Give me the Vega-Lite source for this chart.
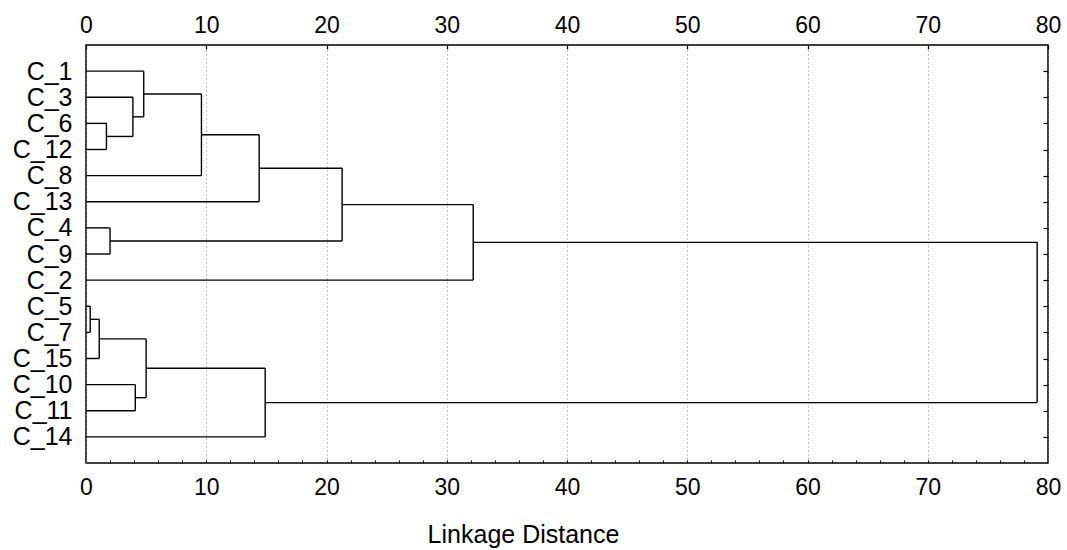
{
  "$schema": "https://vega.github.io/schema/vega-lite/v6.json",
  "width": 962,
  "height": 418,
  "autosize": {"type": "none"},
  "padding": {"left": 86, "top": 45, "right": 19, "bottom": 87},
  "background": "white",
  "config": {
    "view": {"stroke": "black", "strokeWidth": 1.5},
    "font": "Liberation Sans",
    "axis": {"labelFont": "Liberation Sans", "titleFont": "Liberation Sans", "labelColor": "black", "titleColor": "black", "domain": false}
  },
  "data": {
    "values": [
      {"x": 1.7, "x2": 1.7, "y": 3, "y2": 4},
      {"x": 3.9, "x2": 3.9, "y": 2, "y2": 3.5},
      {"x": 4.8, "x2": 4.8, "y": 1, "y2": 2.75},
      {"x": 9.6, "x2": 9.6, "y": 1.875, "y2": 5},
      {"x": 14.4, "x2": 14.4, "y": 3.4375, "y2": 6},
      {"x": 2.0, "x2": 2.0, "y": 7, "y2": 8},
      {"x": 21.3, "x2": 21.3, "y": 4.71875, "y2": 7.5},
      {"x": 32.2, "x2": 32.2, "y": 6.109, "y2": 9},
      {"x": 0.35, "x2": 0.35, "y": 10, "y2": 11},
      {"x": 1.1, "x2": 1.1, "y": 10.5, "y2": 12},
      {"x": 4.1, "x2": 4.1, "y": 13, "y2": 14},
      {"x": 5.0, "x2": 5.0, "y": 11.25, "y2": 13.5},
      {"x": 14.9, "x2": 14.9, "y": 12.375, "y2": 15},
      {"x": 79.1, "x2": 79.1, "y": 7.555, "y2": 13.6875},
      {"x": 0, "x2": 1.7, "y": 3, "y2": 3},
      {"x": 0, "x2": 1.7, "y": 4, "y2": 4},
      {"x": 0, "x2": 3.9, "y": 2, "y2": 2},
      {"x": 1.7, "x2": 3.9, "y": 3.5, "y2": 3.5},
      {"x": 0, "x2": 4.8, "y": 1, "y2": 1},
      {"x": 3.9, "x2": 4.8, "y": 2.75, "y2": 2.75},
      {"x": 4.8, "x2": 9.6, "y": 1.875, "y2": 1.875},
      {"x": 0, "x2": 9.6, "y": 5, "y2": 5},
      {"x": 9.6, "x2": 14.4, "y": 3.4375, "y2": 3.4375},
      {"x": 0, "x2": 14.4, "y": 6, "y2": 6},
      {"x": 0, "x2": 2.0, "y": 7, "y2": 7},
      {"x": 0, "x2": 2.0, "y": 8, "y2": 8},
      {"x": 14.4, "x2": 21.3, "y": 4.71875, "y2": 4.71875},
      {"x": 2.0, "x2": 21.3, "y": 7.5, "y2": 7.5},
      {"x": 21.3, "x2": 32.2, "y": 6.109, "y2": 6.109},
      {"x": 0, "x2": 32.2, "y": 9, "y2": 9},
      {"x": 0, "x2": 0.35, "y": 10, "y2": 10},
      {"x": 0, "x2": 0.35, "y": 11, "y2": 11},
      {"x": 0.35, "x2": 1.1, "y": 10.5, "y2": 10.5},
      {"x": 0, "x2": 1.1, "y": 12, "y2": 12},
      {"x": 0, "x2": 4.1, "y": 13, "y2": 13},
      {"x": 0, "x2": 4.1, "y": 14, "y2": 14},
      {"x": 1.1, "x2": 5.0, "y": 11.25, "y2": 11.25},
      {"x": 4.1, "x2": 5.0, "y": 13.5, "y2": 13.5},
      {"x": 5.0, "x2": 14.9, "y": 12.375, "y2": 12.375},
      {"x": 0, "x2": 14.9, "y": 15, "y2": 15},
      {"x": 32.2, "x2": 79.1, "y": 7.555, "y2": 7.555},
      {"x": 14.9, "x2": 79.1, "y": 13.6875, "y2": 13.6875}
    ]
  },
  "resolve": {"axis": {"x": "independent", "y": "independent"}},
  "layer": [
    {
      "mark": {"type": "rule", "color": "black", "strokeWidth": 1.4},
      "encoding": {
        "x": {
          "field": "x", "type": "quantitative",
          "scale": {"domain": [0, 80], "nice": false, "zero": false},
          "axis": {
            "orient": "bottom", "title": "Linkage Distance", "values": [0, 10, 20, 30, 40, 50, 60, 70, 80],
            "grid": true, "gridDash": [1, 3], "gridColor": "#888888", "gridWidth": 1,
            "ticks": false, "labelFontSize": 23, "labelPadding": 13, "labelFlush": false,
            "titleFontSize": 25, "titleFontWeight": "normal", "titleX": 437, "titleY": 79, "titleBaseline": "alphabetic"
          }
        },
        "x2": {"field": "x2"},
        "y": {
          "field": "y", "type": "quantitative",
          "scale": {"domain": [0, 16], "reverse": true, "nice": false, "zero": false},
          "axis": {
            "orient": "left", "title": null, "values": [1, 2, 3, 4, 5, 6, 7, 8, 9, 10, 11, 12, 13, 14, 15],
            "labelExpr": "['','C_1','C_3','C_6','C_12','C_8','C_13','C_4','C_9','C_2','C_5','C_7','C_15','C_10','C_11','C_14'][datum.value]",
            "grid": false, "ticks": false, "labelFontSize": 25, "labelPadding": 14
          }
        },
        "y2": {"field": "y2"}
      }
    },
    {
      "mark": {"type": "rule", "color": "black", "opacity": 0},
      "encoding": {
        "x": {
          "field": "x", "type": "quantitative",
          "scale": {"domain": [0, 80], "nice": false, "zero": false},
          "axis": {
            "orient": "top", "title": null, "values": [0, 10, 20, 30, 40, 50, 60, 70, 80],
            "grid": false, "ticks": true, "tickSize": -4, "tickColor": "black", "tickWidth": 1.2,
            "labelFontSize": 23, "labelPadding": 12, "labelFlush": false
          }
        },
        "y": {
          "field": "y", "type": "quantitative",
          "scale": {"domain": [0, 16], "reverse": true, "nice": false, "zero": false},
          "axis": {
            "orient": "right", "title": null, "values": [1, 2, 3, 4, 5, 6, 7, 8, 9, 10, 11, 12, 13, 14, 15],
            "labels": false, "grid": false, "ticks": true, "tickSize": -5, "tickColor": "black", "tickWidth": 1.2
          }
        }
      }
    },
    {
      "mark": {"type": "rule", "color": "black", "opacity": 0},
      "encoding": {
        "x": {
          "field": "x", "type": "quantitative",
          "scale": {"domain": [0, 80], "nice": false, "zero": false},
          "axis": {
            "orient": "bottom", "title": null,
            "values": [2, 4, 6, 8, 10, 12, 14, 16, 18, 20, 22, 24, 26, 28, 30, 32, 34, 36, 38, 40, 42, 44, 46, 48, 50, 52, 54, 56, 58, 60, 62, 64, 66, 68, 70, 72, 74, 76, 78],
            "labels": false, "grid": false, "ticks": true, "tickSize": -3, "tickColor": "black", "tickWidth": 1
          }
        },
        "y": {"field": "y", "type": "quantitative", "scale": {"domain": [0, 16], "reverse": true, "nice": false, "zero": false}, "axis": null}
      }
    }
  ]
}
